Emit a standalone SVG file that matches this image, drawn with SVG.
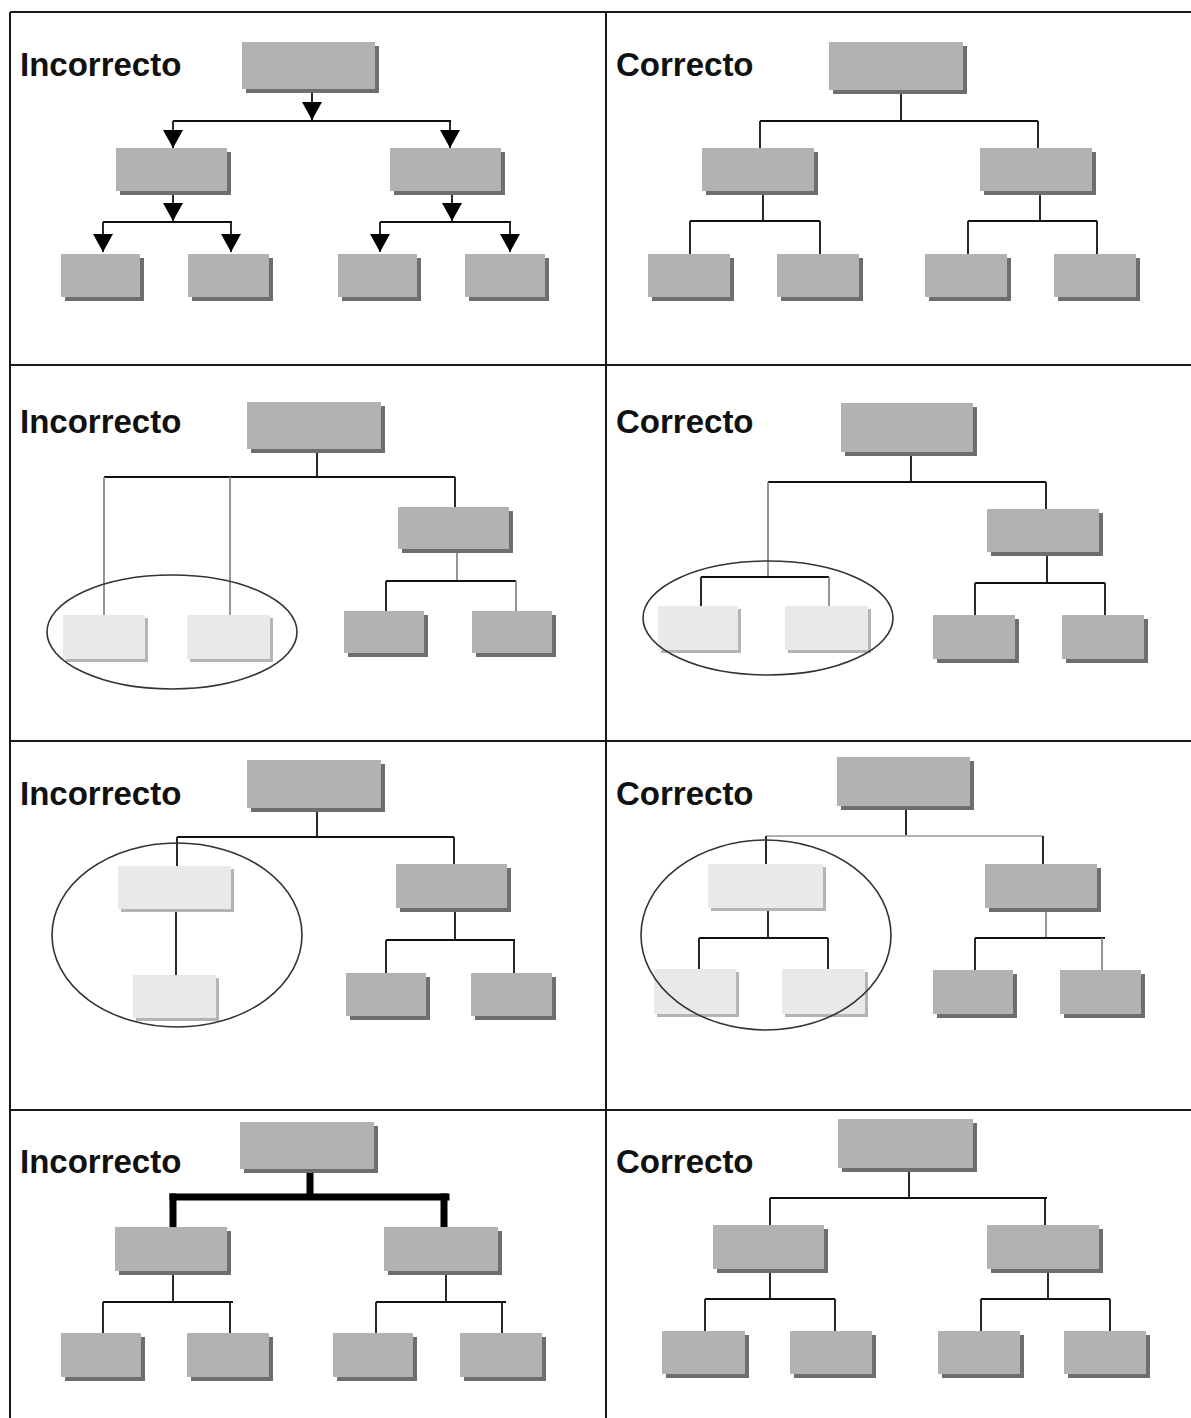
<svg xmlns="http://www.w3.org/2000/svg" width="1191" height="1418" viewBox="0 0 1191 1418">
<style>
.bg{fill:#ffffff}
.grid{stroke:#1a1a1a;stroke-width:2;fill:none}
.box{fill:#b2b2b2}
.sh{fill:#6e6e6e}
.hl{fill:#c9c9c9}
.lbox{fill:#e9e9e9}
.lsh{fill:#b4b4b4}
.c{stroke:#111;stroke-width:1.8;fill:none}
.g{stroke:#8a8a8a;stroke-width:1.8;fill:none}
.lg{stroke:#b0b0b0;stroke-width:2;fill:none}
.thick{stroke:#000;stroke-width:7;fill:none;stroke-linecap:square}
.ell{fill:none;stroke:#333;stroke-width:1.6}
.t{font-family:"Liberation Sans",Arial,Helvetica,sans-serif;font-weight:bold;font-size:33px;fill:#111}
</style>
<defs>
<marker id="arr" markerUnits="userSpaceOnUse" markerWidth="18" markerHeight="20" refX="18" refY="10" orient="auto" viewBox="0 0 18 20">
<path d="M0,0 L18,10 L0,20 z" fill="#000"/>
</marker>
</defs>
<rect class="bg" x="0" y="0" width="1191" height="1418"/>

<g id="grid">
<line class="grid" x1="10" y1="12" x2="1191" y2="12"/>
<line class="grid" x1="10" y1="12" x2="10" y2="1418"/>
<line class="grid" x1="606" y1="12" x2="606" y2="1418"/>
<line class="grid" x1="10" y1="365" x2="1191" y2="365"/>
<line class="grid" x1="10" y1="741" x2="1191" y2="741"/>
<line class="grid" x1="10" y1="1110" x2="1191" y2="1110"/>
</g>

<g id="labels">
<text class="t" x="20" y="76">Incorrecto</text>
<text class="t" x="616" y="76">Correcto</text>
<text class="t" x="20" y="433">Incorrecto</text>
<text class="t" x="616" y="433">Correcto</text>
<text class="t" x="20" y="805">Incorrecto</text>
<text class="t" x="616" y="805">Correcto</text>
<text class="t" x="20" y="1173">Incorrecto</text>
<text class="t" x="616" y="1173">Correcto</text>
</g>

<g id="connectors">
<!-- Panel 1 -->
<line class="c" x1="312" y1="89" x2="312" y2="120" marker-end="url(#arr)"/>
<line class="c" x1="173" y1="121" x2="451" y2="121"/>
<line class="c" x1="173" y1="121" x2="173" y2="148" marker-end="url(#arr)"/>
<line class="c" x1="450" y1="121" x2="450" y2="148" marker-end="url(#arr)"/>
<line class="c" x1="173" y1="191" x2="173" y2="221" marker-end="url(#arr)"/>
<line class="c" x1="103" y1="222" x2="232" y2="222"/>
<line class="c" x1="103" y1="222" x2="103" y2="252" marker-end="url(#arr)"/>
<line class="c" x1="231" y1="222" x2="231" y2="252" marker-end="url(#arr)"/>
<line class="c" x1="452" y1="191" x2="452" y2="221" marker-end="url(#arr)"/>
<line class="c" x1="380" y1="222" x2="511" y2="222"/>
<line class="c" x1="380" y1="222" x2="380" y2="252" marker-end="url(#arr)"/>
<line class="c" x1="510" y1="222" x2="510" y2="252" marker-end="url(#arr)"/>
<!-- Panel 2 -->
<line class="c" x1="901" y1="90" x2="901" y2="121"/>
<line class="c" x1="760" y1="121" x2="1038" y2="121"/>
<line class="c" x1="760" y1="121" x2="760" y2="148"/>
<line class="c" x1="1038" y1="121" x2="1038" y2="148"/>
<line class="c" x1="763" y1="191" x2="763" y2="221"/>
<line class="c" x1="690" y1="221" x2="820" y2="221"/>
<line class="c" x1="690" y1="221" x2="690" y2="254"/>
<line class="c" x1="820" y1="221" x2="820" y2="254"/>
<line class="c" x1="1040" y1="191" x2="1040" y2="221"/>
<line class="c" x1="968" y1="221" x2="1097" y2="221"/>
<line class="c" x1="968" y1="221" x2="968" y2="254"/>
<line class="c" x1="1097" y1="221" x2="1097" y2="254"/>
<!-- Panel 3 -->
<line class="c" x1="317" y1="449" x2="317" y2="477"/>
<line class="c" x1="104" y1="477" x2="455" y2="477"/>
<line class="g" x1="104" y1="477" x2="104" y2="617"/>
<line class="g" x1="230" y1="477" x2="230" y2="617"/>
<line class="c" x1="455" y1="477" x2="455" y2="507"/>
<line class="g" x1="457" y1="549" x2="457" y2="581"/>
<line class="c" x1="386" y1="581" x2="516" y2="581"/>
<line class="c" x1="386" y1="581" x2="386" y2="611"/>
<line class="g" x1="516" y1="581" x2="516" y2="611"/>
<!-- Panel 4 -->
<line class="c" x1="911" y1="452" x2="911" y2="482"/>
<line class="c" x1="768" y1="482" x2="1046" y2="482"/>
<line class="g" x1="768" y1="482" x2="768" y2="577"/>
<line class="c" x1="1046" y1="482" x2="1046" y2="509"/>
<line class="c" x1="701" y1="577" x2="829" y2="577"/>
<line class="c" x1="701" y1="577" x2="701" y2="606"/>
<line class="g" x1="829" y1="577" x2="829" y2="606"/>
<line class="c" x1="1047" y1="552" x2="1047" y2="583"/>
<line class="c" x1="975" y1="583" x2="1105" y2="583"/>
<line class="c" x1="975" y1="583" x2="975" y2="615"/>
<line class="c" x1="1105" y1="583" x2="1105" y2="615"/>
<!-- Panel 5 -->
<line class="c" x1="317" y1="808" x2="317" y2="837"/>
<line class="c" x1="177" y1="837" x2="454" y2="837"/>
<line class="c" x1="177" y1="837" x2="177" y2="866"/>
<line class="c" x1="454" y1="837" x2="454" y2="864"/>
<line class="c" x1="176" y1="909" x2="176" y2="975"/>
<line class="c" x1="455" y1="908" x2="455" y2="940"/>
<line class="c" x1="386" y1="940" x2="515" y2="940"/>
<line class="c" x1="386" y1="940" x2="386" y2="973"/>
<line class="c" x1="514" y1="940" x2="514" y2="973"/>
<!-- Panel 6 -->
<line class="c" x1="906" y1="806" x2="906" y2="836"/>
<line class="lg" x1="766" y1="836" x2="1043" y2="836"/>
<line class="c" x1="766" y1="836" x2="766" y2="864"/>
<line class="c" x1="1043" y1="836" x2="1043" y2="864"/>
<line class="c" x1="768" y1="908" x2="768" y2="938"/>
<line class="c" x1="699" y1="938" x2="828" y2="938"/>
<line class="c" x1="699" y1="938" x2="699" y2="969"/>
<line class="c" x1="828" y1="938" x2="828" y2="969"/>
<line class="g" x1="1046" y1="908" x2="1046" y2="938"/>
<line class="c" x1="975" y1="938" x2="1105" y2="938"/>
<line class="c" x1="975" y1="938" x2="975" y2="970"/>
<line class="g" x1="1102" y1="938" x2="1102" y2="970"/>
<!-- Panel 7 -->
<line class="thick" x1="310" y1="1169" x2="310" y2="1196"/>
<line class="thick" x1="173" y1="1197" x2="446" y2="1197"/>
<line class="thick" x1="173" y1="1197" x2="173" y2="1227"/>
<line class="thick" x1="444" y1="1197" x2="444" y2="1227"/>
<line class="c" x1="173" y1="1271" x2="173" y2="1302"/>
<line class="c" x1="103" y1="1302" x2="233" y2="1302"/>
<line class="c" x1="103" y1="1302" x2="103" y2="1333"/>
<line class="c" x1="230" y1="1302" x2="230" y2="1333"/>
<line class="c" x1="446" y1="1271" x2="446" y2="1302"/>
<line class="c" x1="376" y1="1302" x2="506" y2="1302"/>
<line class="c" x1="376" y1="1302" x2="376" y2="1333"/>
<line class="c" x1="502" y1="1302" x2="502" y2="1333"/>
<!-- Panel 8 -->
<line class="c" x1="909" y1="1168" x2="909" y2="1198"/>
<line class="c" x1="770" y1="1198" x2="1047" y2="1198"/>
<line class="c" x1="770" y1="1198" x2="770" y2="1225"/>
<line class="c" x1="1045" y1="1198" x2="1045" y2="1225"/>
<line class="c" x1="770" y1="1269" x2="770" y2="1299"/>
<line class="c" x1="705" y1="1299" x2="835" y2="1299"/>
<line class="c" x1="705" y1="1299" x2="705" y2="1331"/>
<line class="c" x1="835" y1="1299" x2="835" y2="1331"/>
<line class="c" x1="1048" y1="1269" x2="1048" y2="1299"/>
<line class="c" x1="981" y1="1299" x2="1110" y2="1299"/>
<line class="c" x1="981" y1="1299" x2="981" y2="1331"/>
<line class="c" x1="1110" y1="1299" x2="1110" y2="1331"/>
</g>

<!-- Panel 1 nodes -->
<g id="p1-root"><rect class="sh" x="246" y="46" width="133" height="47"/><rect class="box" x="242" y="42" width="133" height="47"/></g>
<g id="p1-mid-left"><rect class="sh" x="120" y="152" width="111" height="43"/><rect class="box" x="116" y="148" width="111" height="43"/></g>
<g id="p1-mid-right"><rect class="sh" x="394" y="152" width="111" height="43"/><rect class="box" x="390" y="148" width="111" height="43"/></g>
<g id="p1-leaf-1"><rect class="sh" x="65" y="258" width="79" height="43"/><rect class="box" x="61" y="254" width="79" height="43"/></g>
<g id="p1-leaf-2"><rect class="sh" x="192" y="258" width="81" height="43"/><rect class="box" x="188" y="254" width="81" height="43"/></g>
<g id="p1-leaf-3"><rect class="sh" x="342" y="258" width="79" height="43"/><rect class="box" x="338" y="254" width="79" height="43"/></g>
<g id="p1-leaf-4"><rect class="sh" x="469" y="258" width="80" height="43"/><rect class="box" x="465" y="254" width="80" height="43"/></g>

<!-- Panel 2 nodes -->
<g id="p2-root"><rect class="sh" x="833" y="46" width="134" height="48"/><rect class="box" x="829" y="42" width="134" height="48"/></g>
<g id="p2-mid-left"><rect class="sh" x="706" y="152" width="112" height="43"/><rect class="box" x="702" y="148" width="112" height="43"/></g>
<g id="p2-mid-right"><rect class="sh" x="984" y="152" width="112" height="43"/><rect class="box" x="980" y="148" width="112" height="43"/></g>
<g id="p2-leaf-1"><rect class="sh" x="652" y="258" width="82" height="43"/><rect class="box" x="648" y="254" width="82" height="43"/></g>
<g id="p2-leaf-2"><rect class="sh" x="781" y="258" width="82" height="43"/><rect class="box" x="777" y="254" width="82" height="43"/></g>
<g id="p2-leaf-3"><rect class="sh" x="929" y="258" width="82" height="43"/><rect class="box" x="925" y="254" width="82" height="43"/></g>
<g id="p2-leaf-4"><rect class="sh" x="1058" y="258" width="82" height="43"/><rect class="box" x="1054" y="254" width="82" height="43"/></g>

<!-- Panel 3 nodes -->
<g id="p3-root"><rect class="sh" x="251" y="406" width="134" height="47"/><rect class="box" x="247" y="402" width="134" height="47"/></g>
<g id="p3-mid-right"><rect class="sh" x="402" y="511" width="111" height="42"/><rect class="box" x="398" y="507" width="111" height="42"/></g>
<g id="p3-leaf-3"><rect class="sh" x="348" y="615" width="80" height="42"/><rect class="box" x="344" y="611" width="80" height="42"/></g>
<g id="p3-leaf-4"><rect class="sh" x="476" y="615" width="80" height="42"/><rect class="box" x="472" y="611" width="80" height="42"/></g>
<g id="p3-light-1"><rect class="lsh" x="66" y="618" width="82" height="44"/><rect class="lbox" x="63" y="615" width="82" height="44"/></g>
<g id="p3-light-2"><rect class="lsh" x="190" y="618" width="83" height="44"/><rect class="lbox" x="187" y="615" width="83" height="44"/></g>
<g id="p3-ellipse"><ellipse class="ell" cx="172" cy="632" rx="125" ry="57"/></g>

<!-- Panel 4 nodes -->
<g id="p4-root"><rect class="sh" x="845" y="407" width="132" height="49"/><rect class="box" x="841" y="403" width="132" height="49"/></g>
<g id="p4-mid-right"><rect class="sh" x="991" y="513" width="112" height="43"/><rect class="box" x="987" y="509" width="112" height="43"/></g>
<g id="p4-leaf-3"><rect class="sh" x="937" y="619" width="82" height="44"/><rect class="box" x="933" y="615" width="82" height="44"/></g>
<g id="p4-leaf-4"><rect class="sh" x="1066" y="619" width="82" height="44"/><rect class="box" x="1062" y="615" width="82" height="44"/></g>
<g id="p4-light-1"><rect class="lsh" x="661" y="609" width="80" height="44"/><rect class="lbox" x="658" y="606" width="80" height="44"/></g>
<g id="p4-light-2"><rect class="lsh" x="788" y="609" width="83" height="44"/><rect class="lbox" x="785" y="606" width="83" height="44"/></g>
<g id="p4-ellipse"><ellipse class="ell" cx="768" cy="618" rx="125" ry="57"/></g>

<!-- Panel 5 nodes -->
<g id="p5-root"><rect class="sh" x="251" y="764" width="134" height="48"/><rect class="box" x="247" y="760" width="134" height="48"/></g>
<g id="p5-light-top"><rect class="lsh" x="121" y="869" width="113" height="43"/><rect class="lbox" x="118" y="866" width="113" height="43"/></g>
<g id="p5-light-bottom"><rect class="lsh" x="136" y="978" width="83" height="43"/><rect class="lbox" x="133" y="975" width="83" height="43"/></g>
<g id="p5-mid-right"><rect class="sh" x="400" y="868" width="111" height="44"/><rect class="box" x="396" y="864" width="111" height="44"/></g>
<g id="p5-leaf-3"><rect class="sh" x="350" y="977" width="80" height="43"/><rect class="box" x="346" y="973" width="80" height="43"/></g>
<g id="p5-leaf-4"><rect class="sh" x="475" y="977" width="81" height="43"/><rect class="box" x="471" y="973" width="81" height="43"/></g>
<g id="p5-ellipse"><ellipse class="ell" cx="177" cy="935" rx="125" ry="92"/></g>

<!-- Panel 6 nodes -->
<g id="p6-root"><rect class="sh" x="841" y="761" width="133" height="49"/><rect class="box" x="837" y="757" width="133" height="49"/></g>
<g id="p6-light-top"><rect class="lsh" x="711" y="867" width="115" height="44"/><rect class="lbox" x="708" y="864" width="115" height="44"/></g>
<g id="p6-light-1"><rect class="lsh" x="657" y="972" width="82" height="45"/><rect class="lbox" x="654" y="969" width="82" height="45"/></g>
<g id="p6-light-2"><rect class="lsh" x="785" y="972" width="83" height="45"/><rect class="lbox" x="782" y="969" width="83" height="45"/></g>
<g id="p6-mid-right"><rect class="sh" x="989" y="868" width="112" height="44"/><rect class="box" x="985" y="864" width="112" height="44"/></g>
<g id="p6-leaf-3"><rect class="sh" x="937" y="974" width="80" height="44"/><rect class="box" x="933" y="970" width="80" height="44"/></g>
<g id="p6-leaf-4"><rect class="sh" x="1064" y="974" width="81" height="44"/><rect class="box" x="1060" y="970" width="81" height="44"/></g>
<g id="p6-ellipse"><ellipse class="ell" cx="766" cy="935" rx="125" ry="95"/></g>

<!-- Panel 7 nodes -->
<g id="p7-root"><rect class="sh" x="244" y="1126" width="134" height="47"/><rect class="box" x="240" y="1122" width="134" height="47"/></g>
<g id="p7-mid-left"><rect class="sh" x="119" y="1231" width="112" height="44"/><rect class="box" x="115" y="1227" width="112" height="44"/></g>
<g id="p7-mid-right"><rect class="sh" x="388" y="1231" width="114" height="44"/><rect class="box" x="384" y="1227" width="114" height="44"/></g>
<g id="p7-leaf-1"><rect class="sh" x="65" y="1337" width="80" height="44"/><rect class="box" x="61" y="1333" width="80" height="44"/></g>
<g id="p7-leaf-2"><rect class="sh" x="191" y="1337" width="82" height="44"/><rect class="box" x="187" y="1333" width="82" height="44"/></g>
<g id="p7-leaf-3"><rect class="sh" x="337" y="1337" width="80" height="44"/><rect class="box" x="333" y="1333" width="80" height="44"/></g>
<g id="p7-leaf-4"><rect class="sh" x="464" y="1337" width="82" height="44"/><rect class="box" x="460" y="1333" width="82" height="44"/></g>

<!-- Panel 8 nodes -->
<g id="p8-root"><rect class="sh" x="842" y="1123" width="135" height="49"/><rect class="box" x="838" y="1119" width="135" height="49"/></g>
<g id="p8-mid-left"><rect class="sh" x="717" y="1229" width="111" height="44"/><rect class="box" x="713" y="1225" width="111" height="44"/></g>
<g id="p8-mid-right"><rect class="sh" x="991" y="1229" width="112" height="44"/><rect class="box" x="987" y="1225" width="112" height="44"/></g>
<g id="p8-leaf-1"><rect class="sh" x="666" y="1335" width="83" height="43"/><rect class="box" x="662" y="1331" width="83" height="43"/></g>
<g id="p8-leaf-2"><rect class="sh" x="794" y="1335" width="82" height="43"/><rect class="box" x="790" y="1331" width="82" height="43"/></g>
<g id="p8-leaf-3"><rect class="sh" x="942" y="1335" width="82" height="43"/><rect class="box" x="938" y="1331" width="82" height="43"/></g>
<g id="p8-leaf-4"><rect class="sh" x="1068" y="1335" width="82" height="43"/><rect class="box" x="1064" y="1331" width="82" height="43"/></g>
</svg>
